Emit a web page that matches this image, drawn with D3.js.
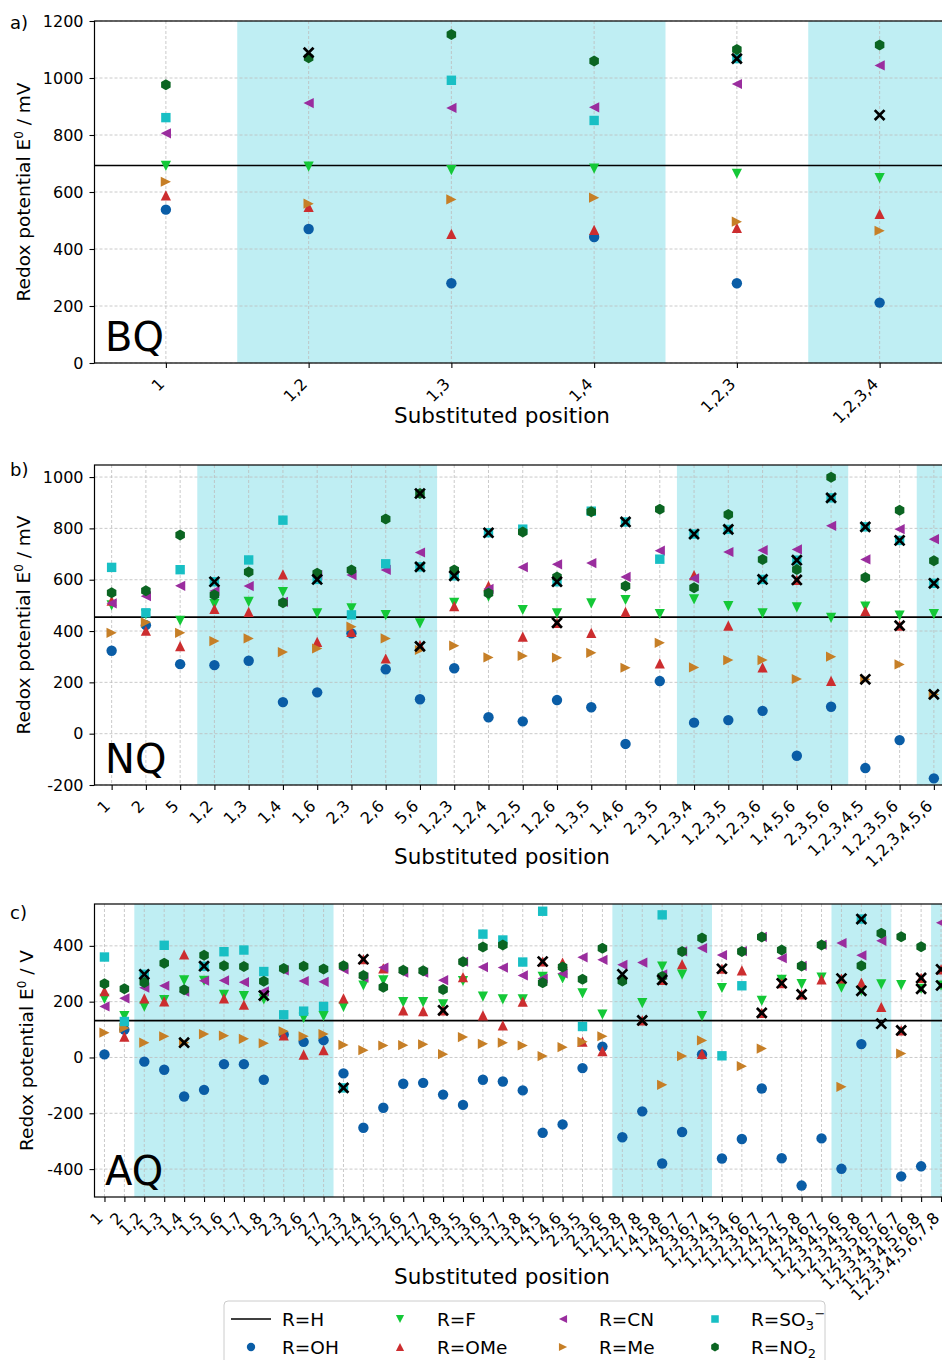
<!DOCTYPE html>
<html><head><meta charset="utf-8">
<script src="https://cdn.jsdelivr.net/npm/d3@7"></script>
<style>body{margin:0;background:#fff} text{font-family:"DejaVu Sans",sans-serif;fill:#000}</style>
</head><body><svg id="chart" width="942" height="1360"></svg>
<script>
// ---------- Panel a (BQ) ----------
const catsA = ["1","1,2","1,3","1,4","1,2,3","1,2,3,4"];
const ohA  = [538,470,280,442,280,212];
const fA   = [692,689,677,682,664,649];
const omeA = [588,548,453,467,474,523];
const cnA  = [806,912,895,897,979,1044];
const meA  = [636,559,574,580,496,464];
const so3A = [861,null,992,851,1068,null];
const no2A = [976,1071,1153,1060,1100,1116];
const markA1 = [null,1089,null,null,1068,870];
const hA = 693;
const ticksA = [0,200,400,600,800,1000,1200];

// ---------- Panel b (NQ) ----------
const catsB = ["1","2","5","1,2","1,3","1,4","1,6","2,3","2,6","5,6","1,2,3","1,2,4","1,2,5","1,2,6","1,3,5","1,4,6","2,3,5","1,2,3,4","1,2,3,5","1,2,3,6","1,4,5,6","2,3,5,6","1,2,3,4,5","1,2,3,5,6","1,2,3,4,5,6"];
const ohB  = [323,423,271,267,284,123,161,391,251,134,255,64,48,131,103,-40,205,43,53,89,-86,105,-134,-25,-174];
const fB   = [500,465,440,505,514,552,469,488,462,430,510,534,482,469,508,521,466,523,497,469,492,451,495,460,466];
const omeB = [518,401,341,486,475,621,358,397,293,345,497,576,378,432,393,475,274,618,421,258,599,206,478,421,null];
const cnB  = [508,536,576,556,575,514,618,618,638,706,null,564,649,660,665,611,713,605,708,715,718,810,679,797,758];
const meB  = [393,434,393,361,371,318,332,417,371,326,343,297,303,296,315,257,354,258,287,287,213,300,212,270,153];
const so3B = [648,471,639,592,677,832,601,463,662,650,615,783,797,592,867,825,680,778,796,601,676,919,806,753,586];
const no2B = [549,557,774,540,630,510,625,638,837,936,638,547,786,611,865,575,875,569,854,679,640,999,609,871,674];
const markB1 = [null,null,null,592,null,null,601,null,null,936,615,783,null,592,null,825,null,778,796,601,676,919,806,753,586];
const markB2 = [null,null,null,null,null,null,null,null,null,650,null,null,null,432,null,null,null,null,null,null,599,null,212,421,153];
const markB3 = [null,null,null,null,null,null,null,null,null,340,null,null,null,null,null,null,null,null,null,null,null,null,null,null,null];
const hB = 454;
const ticksB = [-200,0,200,400,600,800,1000];

// ---------- Panel c (AQ) ----------
const catsC = ["1","2","1,2","1,3","1,4","1,5","1,6","1,7","1,8","2,3","2,6","2,7","1,2,3","1,2,4","1,2,5","1,2,6","1,2,7","1,2,8","1,3,5","1,3,6","1,3,7","1,3,8","1,4,5","1,4,6","2,3,5","2,3,6","1,2,5,8","1,2,7,8","1,4,5,8","1,4,6,7","2,3,6,7","1,2,3,4,5","1,2,3,4,6","1,2,3,6,7","1,2,4,5,7","1,2,4,5,8","1,2,4,6,7","1,2,3,4,5,6","1,2,3,4,5,8","1,2,3,5,6,7","1,2,3,4,5,6,7","1,2,3,4,5,6,8","1,2,3,4,5,6,7,8"];
const ohC  = [11,100,-15,-44,-140,-116,-24,-24,-80,82,56,62,-57,-252,-180,-94,-91,-133,-170,-80,-86,-118,-270,-240,-38,39,-286,-193,-380,-267,11,-362,-292,-111,-361,-459,-290,-399,48,null,-426,-390,null];
const fC   = [210,148,182,206,276,275,224,220,208,null,142,148,181,258,276,198,198,190,274,218,208,208,289,283,230,154,null,195,326,297,148,249,null,203,278,263,286,250,239,262,259,246,258];
const omeC = [238,75,212,201,369,null,212,189,null,79,10,26,212,352,319,169,166,169,288,151,115,200,344,340,57,23,null,133,278,334,13,318,312,160,266,226,280,283,268,181,97,285,316];
const cnC  = [183,212,250,257,236,275,276,270,237,312,274,271,316,286,322,304,304,277,343,324,322,294,283,301,359,350,332,340,298,380,392,367,381,432,356,328,404,410,366,418,null,null,483];
const meC  = [89,106,53,76,53,84,78,67,51,94,76,84,45,26,43,44,47,12,73,49,53,43,5,37,56,76,null,null,-98,5,61,null,-31,32,null,null,null,-105,null,null,14,null,null];
const so3C = [360,129,298,402,null,327,379,385,308,153,166,183,-109,null,null,null,null,null,null,442,421,342,524,null,111,null,null,null,511,null,null,6,257,null,null,null,null,null,496,null,null,null,null];
const no2C = [264,246,269,338,243,366,329,326,273,319,327,317,329,294,252,313,311,244,343,396,403,null,268,324,280,391,274,null,290,380,428,null,380,432,385,328,403,null,329,445,433,397,null];
const markC1 = [null,null,298,null,53,327,null,null,222,null,null,null,-109,352,null,null,null,169,null,null,null,null,344,null,null,null,298,133,278,null,null,318,null,160,266,226,null,283,496,121,97,285,316];
const markC2 = [null,null,null,null,null,null,null,null,null,null,null,null,null,null,null,null,null,null,null,null,null,null,null,null,null,null,null,null,null,null,null,null,null,null,null,null,null,null,239,null,null,246,258];
const hC = 132;
const ticksC = [-400,-200,0,200,400];

// ---------- styles ----------
const seriesStyle = [
  {name:"OH",  color:"#0a5da6", shape:"circle"},
  {name:"F",   color:"#14c837", shape:"tdown"},
  {name:"OMe", color:"#cc2d2f", shape:"tup"},
  {name:"CN",  color:"#9a2d9e", shape:"tleft"},
  {name:"Me",  color:"#c67f27", shape:"tright"},
  {name:"SO3", color:"#18bfc4", shape:"square"},
  {name:"NO2", color:"#0b6522", shape:"hex"}
];
const BAND = "#bfeef3";

function markerPath(shape, k) {
  k = k || 1;
  const r = 5.2*k, h = 5.1*k, s = 4.7*k;
  switch (shape) {
    case "circle": return `M${r},0A${r},${r} 0 1,1 ${-r},0A${r},${r} 0 1,1 ${r},0Z`;
    case "square": return `M${-s},${-s}H${s}V${s}H${-s}Z`;
    case "tup": return `M0,${-h}L${h},${h}L${-h},${h}Z`;
    case "tdown": return `M${-h},${-h}L${h},${-h}L0,${h}Z`;
    case "tleft": return `M${-h},0L${h},${-h}L${h},${h}Z`;
    case "tright": return `M${h},0L${-h},${-h}L${-h},${h}Z`;
    case "hex": {
      const R = 5.5*k; const pts = d3.range(6).map(i => { const a = (-90 + 60*i) * Math.PI/180; return [R*Math.cos(a), R*Math.sin(a)]; });
      return "M" + pts.map(p => p[0].toFixed(2)+","+p[1].toFixed(2)).join("L") + "Z";
    }
    case "x": { const q = 4.9*k; return `M${-q},${-q}L${q},${q}M${-q},${q}L${q},${-q}`; }
  }
}

const svg = d3.select("#chart");
const XL = 94.5, XR = 951;

function drawPanel(cfg) {
  const n = cfg.cats.length;
  const x = d3.scaleLinear().domain([-0.5, n - 0.5]).range([XL, XR]);
  const y = d3.scaleLinear().domain(cfg.ydom).range([cfg.bottom, cfg.top]);
  const g = svg.append("g");

  cfg.bands.forEach(b => {
    g.append("rect").attr("x", x(b[0])).attr("y", cfg.top)
      .attr("width", x(b[1]) - x(b[0])).attr("height", cfg.bottom - cfg.top)
      .attr("fill", BAND);
  });
  g.selectAll(null).data(d3.range(n)).join("line")
    .attr("x1", d => x(d)).attr("x2", d => x(d)).attr("y1", cfg.top).attr("y2", cfg.bottom)
    .attr("stroke", "#bdbdbd").attr("stroke-width", 0.8).attr("stroke-dasharray", "3,2");
  g.selectAll(null).data(cfg.ticks).join("line")
    .attr("x1", XL).attr("x2", XR).attr("y1", d => y(d)).attr("y2", d => y(d))
    .attr("stroke", "#bdbdbd").attr("stroke-width", 0.8).attr("stroke-dasharray", "3,2");
  g.append("line").attr("x1", XL).attr("x2", XR).attr("y1", y(cfg.h)).attr("y2", y(cfg.h))
    .attr("stroke", "#000").attr("stroke-width", 1.7);
  cfg.series.forEach((vals, si) => {
    const st = seriesStyle[si];
    const pts = vals.map((v, i) => [i, v]).filter(p => p[1] !== null);
    g.selectAll(null).data(pts).join("path")
      .attr("d", markerPath(st.shape))
      .attr("transform", d => `translate(${x(d[0])},${y(d[1])})`)
      .attr("fill", st.color);
  });
  cfg.marks.forEach(arr => {
    const pts = arr.map((v, i) => [i, v]).filter(p => p[1] !== null);
    g.selectAll(null).data(pts).join("path")
      .attr("d", markerPath("x"))
      .attr("transform", d => `translate(${x(d[0])},${y(d[1])})`)
      .attr("fill", "none").attr("stroke", "#000").attr("stroke-width", 2.7);
  });
  g.append("rect").attr("x", XL).attr("y", cfg.top).attr("width", XR - XL).attr("height", cfg.bottom - cfg.top)
    .attr("fill", "none").attr("stroke", "#000").attr("stroke-width", 1.2);
  const ya = g.append("g").attr("transform", `translate(${XL},0)`)
    .call(d3.axisLeft(y).tickValues(cfg.ticks).tickSizeInner(5).tickSizeOuter(0).tickPadding(6).tickFormat(d => String(d)));
  ya.select(".domain").remove();
  ya.selectAll("text").attr("font-size", 16).style("font-family", '"DejaVu Sans",sans-serif');
  ya.selectAll("line").attr("stroke-width", 1.1);
  const xa = g.append("g").attr("transform", `translate(0,${cfg.bottom})`)
    .call(d3.axisBottom(x).tickValues(d3.range(n)).tickSizeInner(5).tickSizeOuter(0).tickFormat(i => cfg.cats[i]));
  xa.select(".domain").remove();
  xa.selectAll("line").attr("stroke-width", 1.1);
  xa.selectAll("text").attr("x", 0).attr("y", 0).attr("dy", 0)
    .attr("text-anchor", "end").attr("font-size", 16)
    .style("font-family", '"DejaVu Sans",sans-serif')
    .attr("transform", "translate(-1,22) rotate(-45)");
  svg.append("text").attr("x", 10).attr("y", cfg.letterY).attr("font-size", 18).text(cfg.letter);
  svg.append("text").attr("x", 105).attr("y", cfg.bottom - 12).attr("font-size", 40).text(cfg.big);
  svg.append("text").attr("x", 502).attr("y", cfg.xlabelY).attr("text-anchor", "middle").attr("font-size", 21.5).text("Substituted position");
  const yl = svg.append("text").attr("transform", `translate(${cfg.ylabelX},${(cfg.top + cfg.bottom)/2}) rotate(-90)`)
    .attr("text-anchor", "middle").attr("font-size", 18.5);
  yl.append("tspan").text("Redox potential E");
  yl.append("tspan").attr("font-size", 12).attr("dy", -7).text("0");
  yl.append("tspan").attr("dy", 7).text(" / " + cfg.unit);
}

drawPanel({cats: catsA, ydom: [0, 1200], top: 21, bottom: 363, ticks: ticksA, h: hA,
  bands: [[0.5, 3.5], [4.5, 5.5]],
  series: [ohA, fA, omeA, cnA, meA, so3A, no2A], marks: [markA1],
  letter: "a)", letterY: 29, big: "BQ", xlabelY: 423, ylabelX: 30, unit: "mV"});
drawPanel({cats: catsB, ydom: [-200, 1047], top: 465, bottom: 785, ticks: ticksB, h: hB,
  bands: [[2.5, 9.5], [16.5, 21.5], [23.5, 24.5]],
  series: [ohB, fB, omeB, cnB, meB, so3B, no2B], marks: [markB1, markB2, markB3],
  letter: "b)", letterY: 476, big: "NQ", xlabelY: 864, ylabelX: 30, unit: "mV"});
drawPanel({cats: catsC, ydom: [-500, 550], top: 904, bottom: 1197, ticks: ticksC, h: hC,
  bands: [[1.5, 11.5], [25.5, 30.5], [36.5, 39.5], [41.5, 42.5]],
  series: [ohC, fC, omeC, cnC, meC, so3C, no2C], marks: [markC1, markC2],
  letter: "c)", letterY: 919, big: "AQ", xlabelY: 1284, ylabelX: 33, unit: "V"});

// ---------- legend ----------
const lg = svg.append("g");
lg.append("rect").attr("x", 224).attr("y", 1301).attr("width", 601).attr("height", 80).attr("rx", 4)
  .attr("fill", "#fff").attr("stroke", "#cccccc").attr("stroke-width", 1);
const r1 = 1319, r2 = 1347;
lg.append("line").attr("x1", 231).attr("x2", 271).attr("y1", r1).attr("y2", r1).attr("stroke", "#000").attr("stroke-width", 1.7);
const legendItems = [
  {si: 0, mx: 251, tx: 282, y: r2, label: "R=OH"},
  {si: 1, mx: 400, tx: 437, y: r1, label: "R=F"},
  {si: 2, mx: 400, tx: 437, y: r2, label: "R=OMe"},
  {si: 3, mx: 563, tx: 599, y: r1, label: "R=CN"},
  {si: 4, mx: 563, tx: 599, y: r2, label: "R=Me"},
  {si: 5, mx: 715, tx: 751, y: r1, label: "R=SO", sub: "3", sup: "−"},
  {si: 6, mx: 715, tx: 751, y: r2, label: "R=NO", sub: "2"}
];
lg.append("text").attr("x", 282).attr("y", r1 + 6.5).attr("font-size", 18.5).text("R=H");
legendItems.forEach(it => {
  const st = seriesStyle[it.si];
  lg.append("path").attr("d", markerPath(st.shape, 0.8)).attr("transform", `translate(${it.mx},${it.y})`).attr("fill", st.color);
  const t = lg.append("text").attr("x", it.tx).attr("y", it.y + 6.5).attr("font-size", 18.5);
  t.append("tspan").text(it.label);
  if (it.sub) t.append("tspan").attr("font-size", 13).attr("dy", 4).text(it.sub);
  if (it.sup) t.append("tspan").attr("font-size", 13).attr("dy", -12).attr("dx", 0.5).text(it.sup);
});
</script></body></html>
